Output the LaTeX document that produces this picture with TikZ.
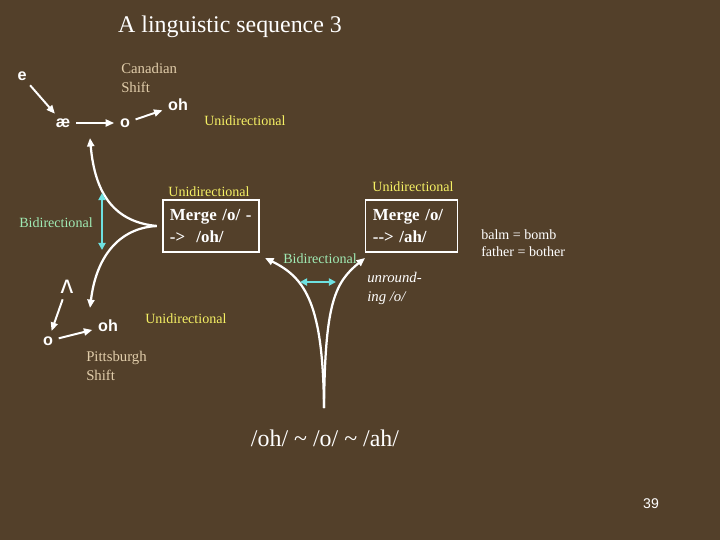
\documentclass[tikz,border=0pt]{standalone}
\usepackage{fontspec}
\setmainfont{Liberation Serif}
\newfontfamily\arialfont{Liberation Sans}
\usetikzlibrary{arrows.meta,positioning}

\definecolor{slidebg}{RGB}{83,64,42}
\definecolor{shifttan}{RGB}{225,205,170}
\definecolor{uniyellow}{RGB}{245,240,100}
\definecolor{bidigreen}{RGB}{160,235,180}
\definecolor{bidicyan}{RGB}{110,225,225}

\begin{document}
\begin{tikzpicture}[x=0.025cm, y=-0.025cm,
    sound/.style={font=\arialfont\bfseries\fontsize{11.5}{13}\selectfont, text=white, inner sep=1pt},
    shiftname/.style={font=\fontsize{10.5}{13.5}\selectfont, text=shifttan, align=left, anchor=west, inner sep=0pt},
    uni/.style={font=\fontsize{10}{12}\selectfont, text=uniyellow, inner sep=0pt},
    bidi/.style={font=\fontsize{10}{12}\selectfont, text=bidigreen, inner sep=0pt},
    merge/.style={rectangle, draw=white, line width=0.8pt, text=white, align=left, font=\bfseries\fontsize{12}{15}\selectfont, inner xsep=0.175cm, minimum height=1.3cm},
    arrow/.style={-{Triangle[length=6pt,width=5pt]}, white, line width=1.4pt, shorten <=3pt, shorten >=3pt},
    curve/.style={-{Triangle[length=6pt,width=5pt]}, white, line width=1.6pt},
    both/.style={{Triangle[length=5pt,width=5pt]}-{Triangle[length=5pt,width=5pt]}, bidicyan, line width=1.4pt}
]
    \fill[slidebg] (0,0) rectangle (720,540);

    % Title
    \node[text=white, font=\fontsize{17}{20}\selectfont] (title) at (230,27) {A linguistic sequence 3};

    % Canadian Shift
    \node[sound] (e) at (22,76) {e};
    \node[sound] (ae) at (63,123) {æ};
    \node[sound] (oC) at (125,123) {o};
    \node[sound] (ohC) at (178,105) {oh};
    \node[shiftname] (canadian) at (121,78) {Canadian\\Shift};
    \node[uni, anchor=west] (uniC) at (204,121) {Unidirectional};

    % Merges
    \node[merge, text width=2.05cm] (mergeoh) at (211,226) {Merge /o/ -\\-> \ /oh/};
    \node[merge, text width=1.93cm] (mergeah) at (411.5,226) {Merge /o/\\-{}-> /ah/};
    \node[uni] (uniL) at (209,192) {Unidirectional};
    \node[uni] (uniR) at (413,187) {Unidirectional};
    \node[bidi, anchor=west] (bidiL) at (19,223) {Bidirectional};
    \node[bidi] (bidiR) at (320,259) {Bidirectional};
    \node[text=white, align=left, anchor=west, inner sep=0pt, font=\fontsize{10}{12.5}\selectfont] (balm) at (481,243) {balm = bomb\\father = bother};
    \node[text=white, align=left, anchor=west, inner sep=0pt, font=\itshape\fontsize{10.5}{13.5}\selectfont] (unround) at (367,288) {unround-\\ing /o/};

    % Pittsburgh Shift
    \node[sound, font=\arialfont\fontsize{18}{18}\selectfont] (wedge) at (67,287) {ʌ};
    \node[sound] (oP) at (48,341) {o};
    \node[sound] (ohP) at (108,326) {oh};
    \node[uni, anchor=west] (uniP) at (145,319) {Unidirectional};
    \node[shiftname] (pitt) at (86,366) {Pittsburgh\\Shift};

    % Result
    \node[text=white, font=\fontsize{17}{20}\selectfont] (tilde) at (325,438) {/oh/ \textasciitilde{} /o/ \textasciitilde{} /ah/};
    \node[text=white, font=\arialfont\fontsize{10}{12}\selectfont] (page) at (651,504) {39};

    % Curve ends
    \coordinate (topend) at (90,138);
    \coordinate (lowend) at (90,308);
    \coordinate (vbot) at (324,408);
    \coordinate (vleft) at (265,258);
    \coordinate (vright) at (365,258);
    \coordinate (bidiLtop) at (102,193);
    \coordinate (bidiLbot) at (102,250);
    \coordinate (bidiRl) at (300,282);
    \coordinate (bidiRr) at (336,282);

    % Arrows
    \draw[arrow] (e) -- (ae);
    \draw[arrow] (ae) -- (oC);
    \draw[arrow] (oC) -- (ohC);
    \draw[arrow] (wedge) -- (oP);
    \draw[arrow] (oP) -- (ohP);

    \draw[curve] ([xshift=-4pt]mergeoh.west) .. controls (115,222) and (95,195) .. (topend);
    \draw[curve] ([xshift=-4pt]mergeoh.west) .. controls (118,228) and (96,258) .. (lowend);
    \draw[curve] (vbot) .. controls (323,305) and (306,278) .. (vleft);
    \draw[curve] (vbot) .. controls (325,305) and (334,283) .. (vright);

    \draw[both] (bidiLtop) -- (bidiLbot);
    \draw[both] (bidiRl) -- (bidiRr);

\end{tikzpicture}
\end{document}
